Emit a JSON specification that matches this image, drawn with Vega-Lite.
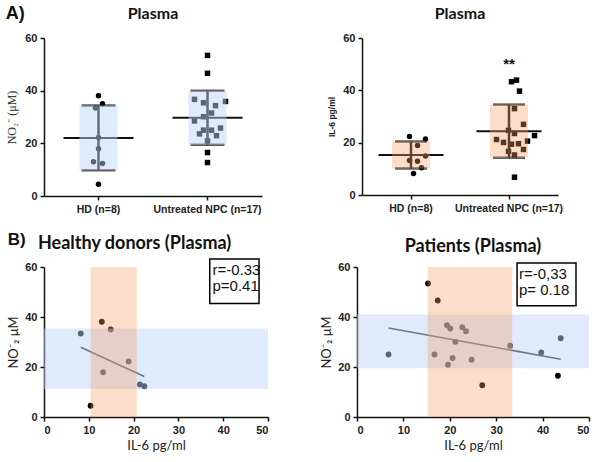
{
  "$schema": "https://vega.github.io/schema/vega-lite/v6.json",
  "background": "white",
  "padding": 5,
  "datasets": {
    "d": [
      {"group": "HD (n=8)", "il6": 8.2, "no2": 33.4, "jn": -3, "ji": -3},
      {"group": "HD (n=8)", "il6": 10.4, "no2": 4.5, "jn": 0, "ji": 5},
      {"group": "HD (n=8)", "il6": 12.9, "no2": 38.1, "jn": 0, "ji": 1},
      {"group": "HD (n=8)", "il6": 13.2, "no2": 17.9, "jn": 0, "ji": -7},
      {"group": "HD (n=8)", "il6": 14.9, "no2": 35.0, "jn": 4, "ji": 9},
      {"group": "HD (n=8)", "il6": 18.9, "no2": 22.2, "jn": 0, "ji": 1},
      {"group": "HD (n=8)", "il6": 21.4, "no2": 13.0, "jn": -5, "ji": 9},
      {"group": "HD (n=8)", "il6": 22.4, "no2": 12.3, "jn": 4, "ji": -7},
      {"group": "Untreated NPC (n=17)", "il6": 15.3, "no2": 53.4, "jn": 0, "ji": 0},
      {"group": "Untreated NPC (n=17)", "il6": 17.4, "no2": 46.6, "jn": 0, "ji": 9},
      {"group": "Untreated NPC (n=17)", "il6": 6.8, "no2": 25.0, "jn": -4, "ji": 0},
      {"group": "Untreated NPC (n=17)", "il6": 16.7, "no2": 25.0, "jn": 4, "ji": -6},
      {"group": "Untreated NPC (n=17)", "il6": 19.4, "no2": 36.7, "jn": -13, "ji": -3},
      {"group": "Untreated NPC (n=17)", "il6": 20.1, "no2": 35.4, "jn": -4, "ji": -11},
      {"group": "Untreated NPC (n=17)", "il6": 21.2, "no2": 30.1, "jn": -4, "ji": -18},
      {"group": "Untreated NPC (n=17)", "il6": 19.6, "no2": 20.9, "jn": 0, "ji": 4},
      {"group": "Untreated NPC (n=17)", "il6": 20.6, "no2": 23.6, "jn": -8, "ji": 13},
      {"group": "Untreated NPC (n=17)", "il6": 22.7, "no2": 35.9, "jn": 18, "ji": 20},
      {"group": "Untreated NPC (n=17)", "il6": 23.5, "no2": 34.3, "jn": 8, "ji": 0},
      {"group": "Untreated NPC (n=17)", "il6": 24.7, "no2": 22.9, "jn": 9, "ji": -6},
      {"group": "Untreated NPC (n=17)", "il6": 27.0, "no2": 12.7, "jn": 0, "ji": 9},
      {"group": "Untreated NPC (n=17)", "il6": 33.0, "no2": 28.5, "jn": -13, "ji": 0},
      {"group": "Untreated NPC (n=17)", "il6": 39.7, "no2": 25.8, "jn": 13, "ji": 5},
      {"group": "Untreated NPC (n=17)", "il6": 43.3, "no2": 16.5, "jn": 0, "ji": -3},
      {"group": "Untreated NPC (n=17)", "il6": 43.9, "no2": 31.5, "jn": 4, "ji": 2}
    ]
  },
  "config": {
    "view": {"stroke": null},
    "axis": {
      "domainColor": "#111", "domainWidth": 1.5, "tickColor": "#111", "tickWidth": 1.5, "tickSize": 4,
      "labelFont": "Liberation Sans", "labelFontWeight": "bold", "labelFontSize": 11, "labelColor": "#222",
      "grid": false, "titleColor": "#222", "titleFont": "Lato", "titleFontWeight": "normal", "titleFontSize": 13, "labelPadding": 3
    },
    "title": {"font": "Lato", "fontWeight": "bold", "fontSize": 16, "color": "#111"}
  },
  "spacing": 16,
  "vconcat": [
    {
      "title": {"text": "A)", "anchor": "start", "font": "Liberation Sans", "fontSize": 18, "fontWeight": "bold", "offset": -17},
      "spacing": 65,
      "hconcat": [
        {
          "width": 218, "height": 158,
          "title": {"text": "Plasma", "offset": 10},
          "data": {"name": "d"},
          "layer": [
            {
              "mark": {"type": "point", "filled": true, "size": 30, "opacity": 1, "color": "black"},
              "encoding": {
                "x": {"field": "group", "type": "nominal", "title": null, "scale": {"paddingInner": 0, "paddingOuter": 0},
                      "axis": {"labelAngle": 0, "labelFontSize": 10.5, "labelPadding": 4}},
                "xOffset": {"field": "jn", "type": "quantitative", "scale": {"domain": [-54.5, 54.5]}},
                "y": {"field": "no2", "type": "quantitative", "title": "NO₂⁻ (μM)", "scale": {"domain": [0, 60]},
                      "axis": {"values": [0, 20, 40, 60], "titleFont": "Liberation Serif", "titleFontSize": 12, "titleColor": "#333", "titlePadding": 6}},
                "shape": {"field": "group", "type": "nominal", "scale": {"range": ["circle", "square"]}, "legend": null}
              }
            },
            {
              "mark": {"type": "tick", "size": 70, "thickness": 2, "color": "#111"},
              "encoding": {
                "x": {"field": "group", "type": "nominal", "title": null},
                "y": {"aggregate": "mean", "field": "no2", "type": "quantitative", "title": "NO₂⁻ (μM)"}
              }
            },
            {
              "mark": {"type": "errorbar", "extent": "stdev", "color": "#111", "thickness": 2.5, "ticks": {"size": 34}},
              "encoding": {
                "x": {"field": "group", "type": "nominal", "title": null},
                "y": {"field": "no2", "type": "quantitative", "title": "NO₂⁻ (μM)"}
              }
            },
            {
              "mark": {"type": "errorbar", "extent": "stdev", "rule": {"strokeWidth": 38, "color": "#bcd4f4", "opacity": 0.48}},
              "encoding": {
                "x": {"field": "group", "type": "nominal", "title": null},
                "y": {"field": "no2", "type": "quantitative", "title": "NO₂⁻ (μM)"}
              }
            }
          ]
        },
        {
          "width": 196, "height": 157,
          "title": {"text": "Plasma", "offset": 10},
          "layer": [
            {
              "data": {"name": "d"},
              "mark": {"type": "point", "filled": true, "size": 30, "opacity": 1, "color": "black"},
              "encoding": {
                "x": {"field": "group", "type": "nominal", "title": null, "scale": {"paddingInner": 0, "paddingOuter": 0},
                      "axis": {"labelAngle": 0, "labelFontSize": 10.5, "labelPadding": 4}},
                "xOffset": {"field": "ji", "type": "quantitative", "scale": {"domain": [-49, 49]}},
                "y": {"field": "il6", "type": "quantitative", "title": "IL-6 pg/ml", "scale": {"domain": [0, 60]},
                      "axis": {"values": [0, 20, 40, 60], "titleFont": "Liberation Sans", "titleFontWeight": "bold", "titleFontSize": 8.5, "titlePadding": 6}},
                "shape": {"field": "group", "type": "nominal", "scale": {"range": ["circle", "square"]}, "legend": null}
              }
            },
            {
              "data": {"name": "d"},
              "mark": {"type": "tick", "size": 65, "thickness": 2, "color": "#111"},
              "encoding": {
                "x": {"field": "group", "type": "nominal", "title": null},
                "y": {"aggregate": "mean", "field": "il6", "type": "quantitative", "title": "IL-6 pg/ml"}
              }
            },
            {
              "data": {"name": "d"},
              "mark": {"type": "errorbar", "extent": "stdev", "color": "#111", "thickness": 2.5, "ticks": {"size": 32}},
              "encoding": {
                "x": {"field": "group", "type": "nominal", "title": null},
                "y": {"field": "il6", "type": "quantitative", "title": "IL-6 pg/ml"}
              }
            },
            {
              "data": {"name": "d"},
              "mark": {"type": "errorbar", "extent": "stdev", "rule": {"strokeWidth": 38, "color": "#f39d64", "opacity": 0.35}},
              "encoding": {
                "x": {"field": "group", "type": "nominal", "title": null},
                "y": {"field": "il6", "type": "quantitative", "title": "IL-6 pg/ml"}
              }
            },
            {
              "data": {"values": [{}]},
              "mark": {"type": "text", "font": "Liberation Sans", "fontSize": 15, "fontWeight": "bold", "color": "#111"},
              "encoding": {
                "x": {"datum": "Untreated NPC (n=17)"},
                "y": {"datum": 50},
                "text": {"value": "**"}
              }
            }
          ]
        }
      ]
    },
    {
      "title": {"text": "B)", "anchor": "start", "font": "Liberation Sans", "fontSize": 17, "fontWeight": "bold", "offset": -14},
      "spacing": 51,
      "hconcat": [
        {
          "width": 224, "height": 150,
          "title": {"text": "Healthy donors (Plasma)", "fontSize": 18, "offset": 5, "anchor": "start", "frame": "group", "dx": -6},
          "layer": [
            {
              "data": {"name": "d"},
              "transform": [{"filter": "datum.group === 'HD (n=8)'"}],
              "mark": {"type": "circle", "size": 34, "color": "black", "opacity": 1},
              "encoding": {
                "x": {"field": "il6", "type": "quantitative", "title": "IL-6 pg/ml", "scale": {"domain": [0, 50]}, "axis": {"values": [0, 10, 20, 30, 40, 50]}},
                "y": {"field": "no2", "type": "quantitative", "title": "NO⁻₂ μM", "scale": {"domain": [0, 60]}, "axis": {"values": [0, 20, 40, 60]}}
              }
            },
            {
              "data": {"name": "d"},
              "transform": [{"filter": "datum.group === 'HD (n=8)'"}, {"regression": "no2", "on": "il6"}],
              "mark": {"type": "line", "color": "#222", "strokeWidth": 1.6},
              "encoding": {
                "x": {"field": "il6", "type": "quantitative", "title": "IL-6 pg/ml"},
                "y": {"field": "no2", "type": "quantitative", "title": "NO⁻₂ μM"}
              }
            },
            {
              "data": {"values": [{"lo": 11.2, "hi": 35.4}]},
              "mark": {"type": "rect", "color": "#bcd4f4", "opacity": 0.48},
              "encoding": {"y": {"field": "lo", "type": "quantitative", "title": "NO⁻₂ μM"}, "y2": {"field": "hi"}}
            },
            {
              "data": {"values": [{"lo": 10.4, "hi": 20.7}]},
              "mark": {"type": "rect", "color": "#f39d64", "opacity": 0.35},
              "encoding": {"x": {"field": "lo", "type": "quantitative", "title": "IL-6 pg/ml"}, "x2": {"field": "hi"}}
            },
            {
              "data": {"values": [{}]},
              "mark": {"type": "rect", "filled": false, "stroke": "black", "strokeWidth": 1.5},
              "encoding": {"x": {"datum": 37}, "x2": {"datum": 48}, "y": {"datum": 63.2}, "y2": {"datum": 45.4}}
            },
            {
              "data": {"values": [{}]},
              "mark": {"type": "text", "align": "left", "baseline": "top", "font": "Liberation Sans", "fontSize": 15, "lineHeight": 16, "color": "#111"},
              "encoding": {"x": {"datum": 37.6}, "y": {"datum": 61.6}, "text": {"value": ["r=-0.33", "p=0.41"]}}
            }
          ]
        },
        {
          "width": 232, "height": 150,
          "title": {"text": "Patients (Plasma)", "fontSize": 18, "offset": 5},
          "layer": [
            {
              "data": {"name": "d"},
              "transform": [{"filter": "datum.group === 'Untreated NPC (n=17)'"}],
              "mark": {"type": "circle", "size": 34, "color": "black", "opacity": 1},
              "encoding": {
                "x": {"field": "il6", "type": "quantitative", "title": "IL-6 pg/ml", "scale": {"domain": [0, 50]}, "axis": {"values": [0, 10, 20, 30, 40, 50]}},
                "y": {"field": "no2", "type": "quantitative", "title": "NO⁻₂ μM", "scale": {"domain": [0, 60]}, "axis": {"values": [0, 20, 40, 60]}}
              }
            },
            {
              "data": {"name": "d"},
              "transform": [{"filter": "datum.group === 'Untreated NPC (n=17)'"}, {"regression": "no2", "on": "il6"}],
              "mark": {"type": "line", "color": "#222", "strokeWidth": 1.6},
              "encoding": {
                "x": {"field": "il6", "type": "quantitative", "title": "IL-6 pg/ml"},
                "y": {"field": "no2", "type": "quantitative", "title": "NO⁻₂ μM"}
              }
            },
            {
              "data": {"values": [{"lo": 19.5, "hi": 41.0}]},
              "mark": {"type": "rect", "color": "#bcd4f4", "opacity": 0.48},
              "encoding": {"y": {"field": "lo", "type": "quantitative", "title": "NO⁻₂ μM"}, "y2": {"field": "hi"}}
            },
            {
              "data": {"values": [{"lo": 15.25, "hi": 33.45}]},
              "mark": {"type": "rect", "color": "#f39d64", "opacity": 0.35},
              "encoding": {"x": {"field": "lo", "type": "quantitative", "title": "IL-6 pg/ml"}, "x2": {"field": "hi"}}
            },
            {
              "data": {"values": [{}]},
              "mark": {"type": "rect", "filled": false, "stroke": "black", "strokeWidth": 1.5},
              "encoding": {"x": {"datum": 34.5}, "x2": {"datum": 47.2}, "y": {"datum": 61.6}, "y2": {"datum": 44.5}}
            },
            {
              "data": {"values": [{}]},
              "mark": {"type": "text", "align": "left", "baseline": "top", "font": "Liberation Sans", "fontSize": 15, "lineHeight": 16, "color": "#111"},
              "encoding": {"x": {"datum": 34.9}, "y": {"datum": 60.2}, "text": {"value": ["r=-0,33", "p= 0.18"]}}
            }
          ]
        }
      ]
    }
  ]
}
